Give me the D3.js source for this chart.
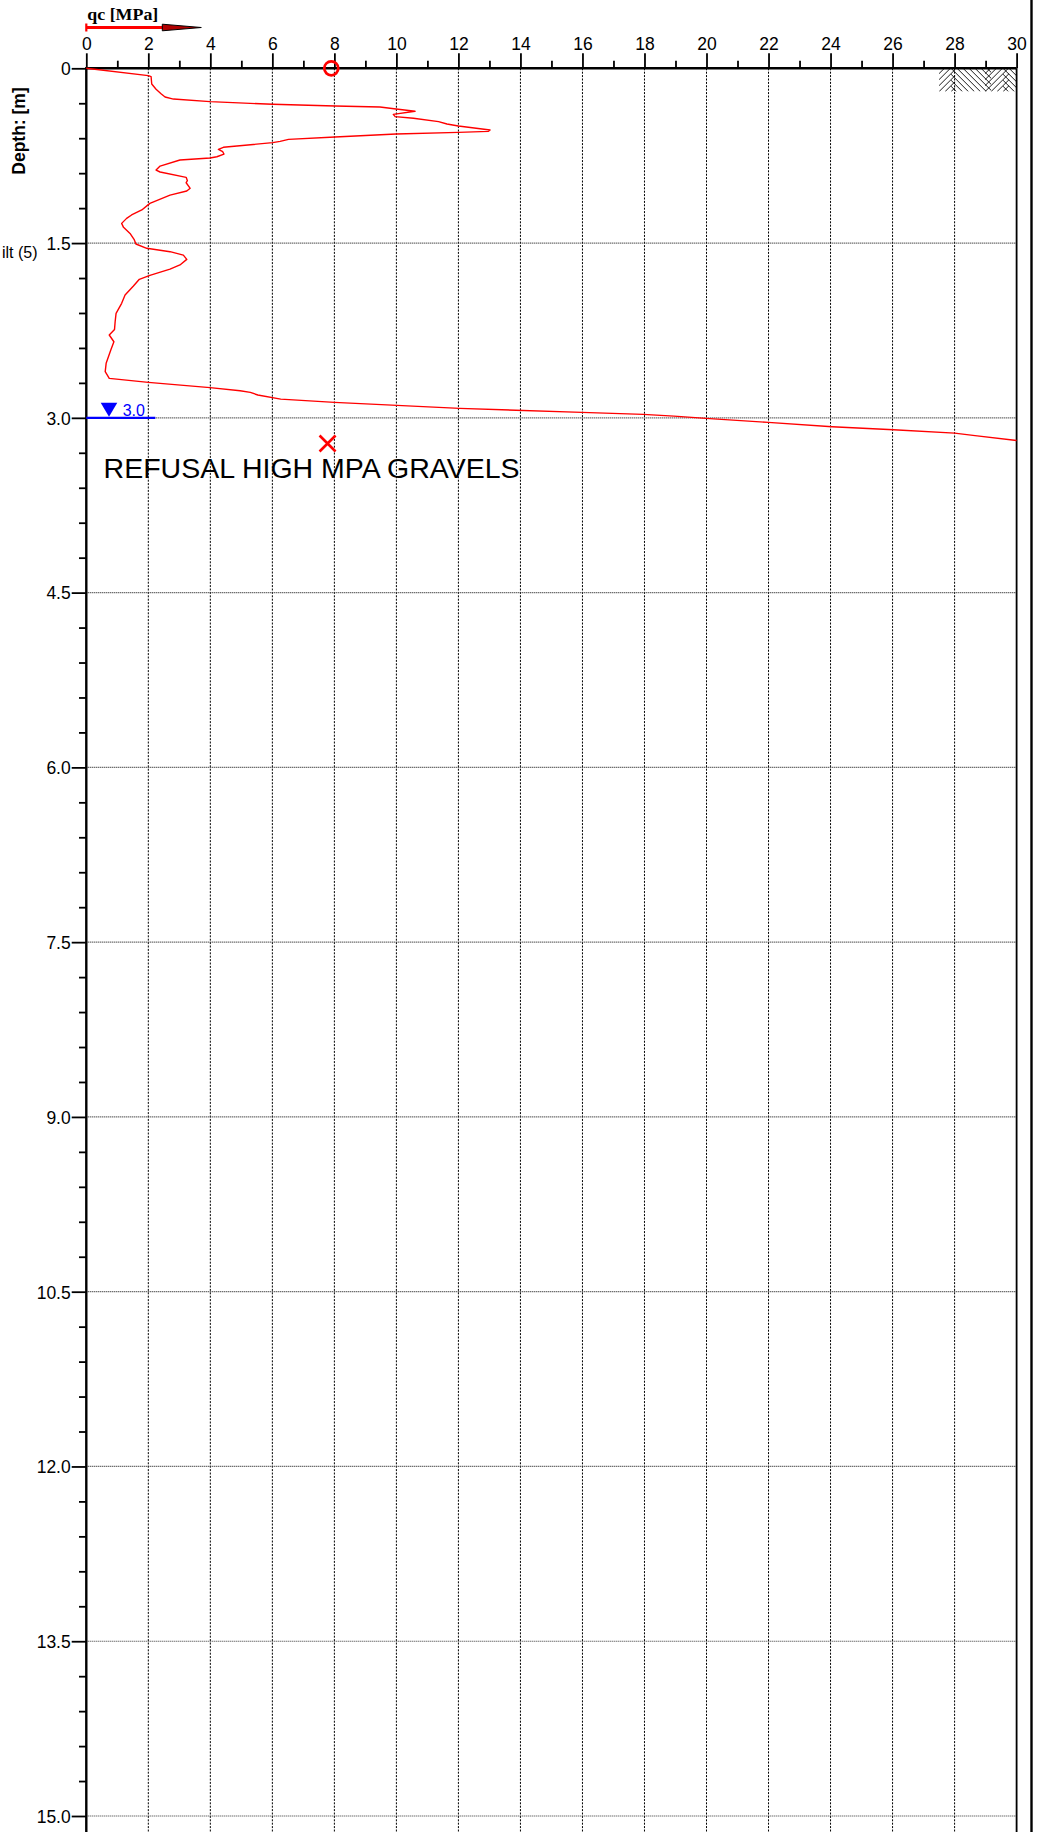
<!DOCTYPE html>
<html>
<head>
<meta charset="utf-8">
<script src="https://d3js.org/d3.v7.min.js"></script>
<style>
  html, body { margin: 0; padding: 0; background: #fff; }
  svg { display: block; }
</style>
</head>
<body>
<svg id="chart" width="1046" height="1832"></svg>
<script>
// ---- data ----
const depth = [0, 0.063, 0.072, 0.135, 0.18, 0.218, 0.246, 0.264, 0.286, 0.309, 0.324, 0.332, 0.349, 0.369, 0.395, 0.415, 0.429, 0.458, 0.478, 0.495, 0.53, 0.541, 0.55, 0.564, 0.59, 0.61, 0.627, 0.638, 0.678, 0.696, 0.716, 0.736, 0.759, 0.77, 0.787, 0.839, 0.873, 0.89, 0.936, 0.965, 0.982, 1.03, 1.053, 1.088, 1.159, 1.216, 1.259, 1.288, 1.331, 1.365, 1.417, 1.468, 1.508, 1.545, 1.574, 1.603, 1.64, 1.688, 1.723, 1.777, 1.811, 1.869, 1.946, 2.017, 2.103, 2.175, 2.241, 2.289, 2.347, 2.418, 2.532, 2.604, 2.661, 2.696, 2.741, 2.767, 2.781, 2.804, 2.839, 2.867, 2.919, 2.953, 2.970, 2.985, 3.005, 3.039, 3.076, 3.102, 3.131, 3.153, 3.195];
const qc = [0, 2.0, 2.09, 2.11, 2.25, 2.41, 2.54, 2.81, 3.99, 6.01, 8.02, 9.47, 9.99, 10.6, 9.9, 9.96, 10.55, 11.36, 11.63, 12.0, 13.02, 12.97, 12.0, 9.99, 8.02, 6.52, 6.25, 6.01, 4.42, 4.26, 4.40, 4.44, 4.21, 3.99, 3.02, 2.38, 2.25, 2.38, 3.22, 3.26, 3.22, 3.35, 3.24, 2.7, 2.05, 1.79, 1.46, 1.30, 1.14, 1.2, 1.41, 1.54, 1.60, 1.95, 2.7, 3.13, 3.24, 3.02, 2.7, 2.05, 1.71, 1.52, 1.25, 1.14, 0.96, 0.93, 0.91, 0.74, 0.89, 0.79, 0.64, 0.61, 0.74, 2.0, 3.99, 4.96, 5.29, 5.53, 6.27, 8.0, 12.04, 15.98, 17.96, 18.95, 19.98, 21.99, 24.05, 26.03, 28.0, 28.66, 30.0];

const qcMajorTicks = d3.range(0, 31, 2);
const qcMinorTicks = d3.range(1, 30, 2);
const depthMajorTicks = [0, 1.5, 3.0, 4.5, 6.0, 7.5, 9.0, 10.5, 12.0, 13.5, 15.0];
const depthMinorTicks = d3.range(0, 15.01, 0.3).filter(v => Math.abs(v / 1.5 - Math.round(v / 1.5)) > 1e-6);

const axisTitle = "qc [MPa]";
const depthTitle = "Depth: [m]";
const soilLabel = "ilt (5)";
const soilLabelDepth = [1.6];
const waterTable = [3.0];
const startMarker = [{ qc: 7.9, depth: 0 }];
const endMarker = [{ qc: 7.78, depth: 3.22 }];
const refusalNote = "REFUSAL HIGH MPA GRAVELS";
const hatchRange = { qc: [27.5, 30], depth: [0, 0.2] };

const SANS = '"Liberation Sans", Arial, sans-serif';
const SERIF = '"Liberation Serif", "Times New Roman", serif';

// ---- scales ----
const W = 1046, H = 1832;
const x = d3.scaleLinear().domain([0, 30]).range([86.3, 1016.6]);
const y = d3.scaleLinear().domain([0, 15]).range([68.3, 1816]);

const svg = d3.select("#chart").style("font-family", SANS);

// grid lines
const grid = svg.append("g");
grid.selectAll("line.vg").data(qcMajorTicks.filter(d => d > 0 && d < 30)).join("line")
  .attr("x1", d => x(d)).attr("x2", d => x(d))
  .attr("y1", y(0)).attr("y2", H)
  .attr("stroke", "#000").attr("stroke-width", 1).attr("stroke-dasharray", "2,1.4");
grid.selectAll("line.hg").data(depthMajorTicks.filter(d => d > 0)).join("line")
  .attr("x1", x(0)).attr("x2", x(30))
  .attr("y1", d => y(d)).attr("y2", d => y(d))
  .attr("stroke", "#333").attr("stroke-width", 1.2).attr("stroke-dasharray", "1,1");

// hatch (fill symbol)
const hx0 = x(hatchRange.qc[0]), hx1 = x(hatchRange.qc[1]);
const hy0 = y(hatchRange.depth[0]), hy1 = y(hatchRange.depth[1]);
const defs = svg.append("defs");
defs.append("clipPath").attr("id", "hclip").append("rect")
  .attr("x", hx0).attr("y", hy0).attr("width", hx1 - hx0).attr("height", hy1 - hy0);
const hg = svg.append("g").attr("clip-path", "url(#hclip)");
const hh = hy1 - hy0;
const blocks = [
  { a: hx0, b: hx0 + 16, dir: 1 },
  { a: hx0 + 12, b: hx0 + 52, dir: -1 },
  { a: hx0 + 46, b: hx0 + 70, dir: 1 },
  { a: hx0 + 64, b: hx1, dir: -1 }
];
blocks.forEach((bk, i) => {
  defs.append("clipPath").attr("id", "hb" + i).append("rect")
    .attr("x", bk.a).attr("y", hy0).attr("width", bk.b - bk.a).attr("height", hh);
  const g = hg.append("g").attr("clip-path", "url(#hb" + i + ")");
  for (let s = bk.a - 30; s < bk.b + 30; s += 6) {
    if (bk.dir === 1) {
      g.append("line").attr("x1", s).attr("y1", hy1).attr("x2", s + hh).attr("y2", hy0);
    } else {
      g.append("line").attr("x1", s).attr("y1", hy0).attr("x2", s + hh).attr("y2", hy1);
    }
  }
  g.selectAll("line").attr("stroke", "#000").attr("stroke-width", 0.9);
});

// axes
const topMinor = svg.append("g").attr("transform", `translate(0,${y(0)})`)
  .call(d3.axisTop(x).tickValues(qcMinorTicks).tickSize(7.6).tickFormat(""));
const topMajor = svg.append("g").attr("transform", `translate(0,${y(0)})`)
  .call(d3.axisTop(x).tickValues(qcMajorTicks).tickSize(15).tickSizeOuter(0).tickPadding(3));
const leftMinor = svg.append("g").attr("transform", `translate(${x(0)},0)`)
  .call(d3.axisLeft(y).tickValues(depthMinorTicks).tickSize(7.3).tickFormat(""));
const leftMajor = svg.append("g").attr("transform", `translate(${x(0)},0)`)
  .call(d3.axisLeft(y).tickValues(depthMajorTicks).tickSize(14.6).tickSizeOuter(0).tickPadding(1)
    .tickFormat(d => d === 0 ? "0" : d3.format(".1f")(d)));

[topMinor, topMajor, leftMinor, leftMajor].forEach(g => {
  g.attr("font-family", null).attr("font-size", null);
  g.select(".domain").remove();
  g.selectAll(".tick line").attr("stroke", "#000").attr("stroke-width", 1.8);
  g.selectAll(".tick text").style("font-size", "17.5px").attr("fill", "#000")
    .style("font-family", SANS);
});
leftMajor.selectAll(".tick text").attr("dy", "0.36em");

// axis lines and frame
svg.append("line").attr("x1", x(0)).attr("x2", x(30)).attr("y1", y(0)).attr("y2", y(0))
  .attr("stroke", "#000").attr("stroke-width", 2.4);
svg.append("line").attr("x1", x(0)).attr("x2", x(0)).attr("y1", y(0) - 1.2).attr("y2", H)
  .attr("stroke", "#000").attr("stroke-width", 2.4);
svg.append("line").attr("x1", x(30)).attr("x2", x(30)).attr("y1", y(0)).attr("y2", H)
  .attr("stroke", "#000").attr("stroke-width", 1.8);
svg.append("line").attr("x1", 1031.5).attr("x2", 1031.5).attr("y1", 0).attr("y2", H)
  .attr("stroke", "#000").attr("stroke-width", 2.4);

// qc curve
const pts = depth.map((d, i) => [qc[i], d]);
svg.append("path").datum(pts)
  .attr("d", d3.line().x(p => x(p[0])).y(p => y(p[1])))
  .attr("fill", "none").attr("stroke", "#ff0000").attr("stroke-width", 1.4)
  .attr("stroke-linejoin", "round");

// water table
const wt = svg.append("g");
waterTable.forEach(wd => {
  wt.append("line").attr("x1", x(0)).attr("x2", x(0) + 69).attr("y1", y(wd)).attr("y2", y(wd))
    .attr("stroke", "#0000ff").attr("stroke-width", 2.2);
  const cx = x(0) + 22.7, ty = y(wd);
  wt.append("path").attr("d", `M${cx - 8.3},${ty - 15} L${cx + 8.3},${ty - 15} L${cx},${ty - 1} Z`)
    .attr("fill", "#0000ff");
  wt.append("text").attr("x", x(0) + 36.4).attr("y", ty - 2)
    .style("font-size", "16px").attr("fill", "#0000ff").text(d3.format(".1f")(wd));
});

// markers
svg.selectAll("circle.start").data(startMarker).join("circle")
  .attr("cx", d => x(d.qc)).attr("cy", d => y(d.depth)).attr("r", 7)
  .attr("fill", "none").attr("stroke", "#ff0000").attr("stroke-width", 2.7);
endMarker.forEach(d => {
  const cx = x(d.qc), cy = y(d.depth), s = 8;
  svg.append("path").attr("d", `M${cx - s},${cy - s} L${cx + s},${cy + s} M${cx - s},${cy + s} L${cx + s},${cy - s}`)
    .attr("stroke", "#ff0000").attr("stroke-width", 2.6).attr("fill", "none");
  svg.append("text").attr("x", x(0) + 17.3).attr("y", cy + 35)
    .style("font-size", "27px").attr("fill", "#000")
    .attr("textLength", 416).attr("lengthAdjust", "spacingAndGlyphs")
    .text(refusalNote);
});

// soil label (as visible at page edge)
svg.append("text").attr("x", 37.5).attr("y", y(soilLabelDepth[0]) + 3)
  .attr("text-anchor", "end").style("font-size", "16px").attr("fill", "#000").text(soilLabel);

// depth title
svg.append("text").attr("transform", "translate(25,131) rotate(-90)")
  .attr("text-anchor", "middle").style("font-size", "17.5px").style("font-weight", "bold")
  .attr("fill", "#000").text(depthTitle);

// qc title and direction arrow
svg.append("text").attr("x", x(0) + 1).attr("y", 19.5)
  .style("font-family", SERIF)
  .style("font-size", "17.5px").style("font-weight", "bold").attr("fill", "#000")
  .attr("textLength", 71).attr("lengthAdjust", "spacingAndGlyphs")
  .text(axisTitle);
const ay = 27.5;
svg.append("line").attr("x1", x(0)).attr("x2", x(0) + 78).attr("y1", ay).attr("y2", ay)
  .attr("stroke", "#ff0000").attr("stroke-width", 2.8);
svg.append("line").attr("x1", x(0)).attr("x2", x(0)).attr("y1", ay - 4).attr("y2", ay + 4)
  .attr("stroke", "#ff0000").attr("stroke-width", 2.2);
svg.append("path").attr("d", `M${x(0) + 76},${ay - 3.3} L${x(0) + 115},${ay} L${x(0) + 76},${ay + 3.3} Z`)
  .attr("fill", "#b00000").attr("stroke", "#000").attr("stroke-width", 1);
</script>
</body>
</html>
